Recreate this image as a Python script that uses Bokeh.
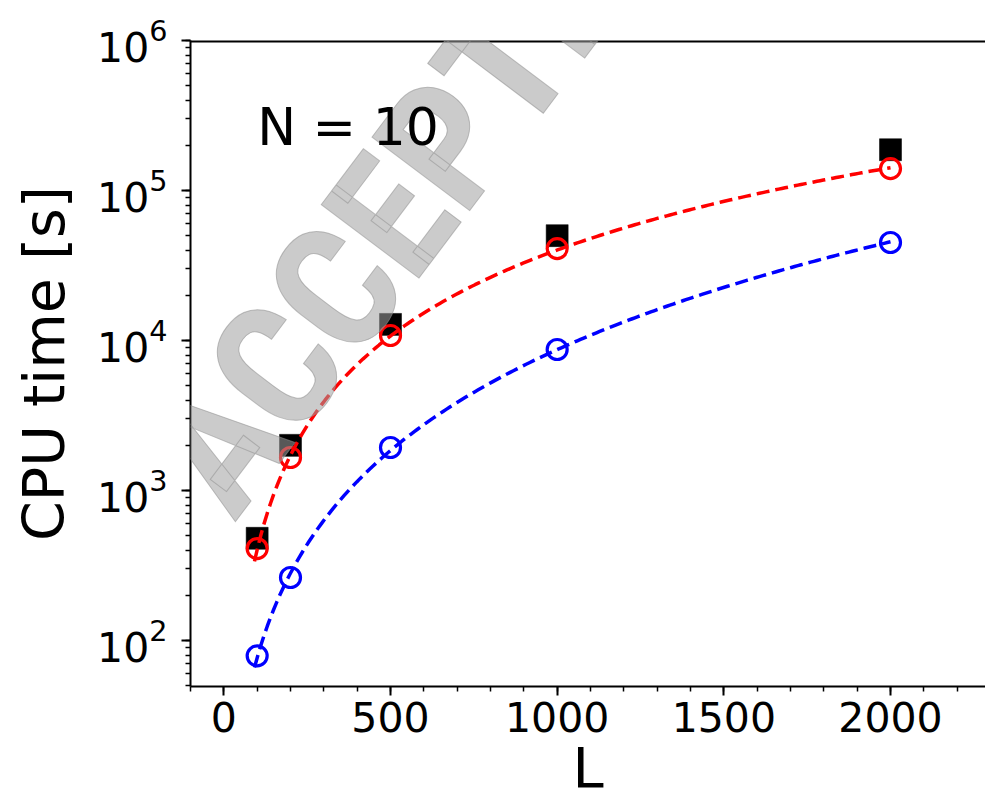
import numpy as np
from bokeh.plotting import figure
from bokeh.models import Range1d, Span, Label, SingleIntervalTicker
from bokeh.embed import file_html
from bokeh.resources import INLINE

# ---- data ----
L_values = [100, 200, 500, 1000, 2000]
cpu_black = [480, 2000, 12800, 50000, 187000]      # black squares
cpu_red = [410, 1660, 10800, 41000, 140000]        # red open circles
cpu_blue = [79, 263, 1935, 8710, 45000]            # blue open circles
annotation_text = "N = 10"
watermark_text = "ACCEPTED"
x_title = "L"
y_title = "CPU time [s]"

FONT = "DejaVu Sans"

p = figure(width=985, height=805,
           x_range=Range1d(-100, 2285), y_range=Range1d(49.35, 1e6),
           y_axis_type="log", output_backend="svg", toolbar_location=None,
           min_border_left=190, min_border_right=0, min_border_top=40,
           min_border_bottom=119, background_fill_color="white",
           border_fill_color="white")
p.outline_line_color = None
p.xgrid.visible = False
p.ygrid.visible = False

# axes styling
p.xaxis.ticker = SingleIntervalTicker(interval=500, num_minor_ticks=5)
for ax in (p.xaxis[0], p.yaxis[0]):
    ax.axis_line_width = 2
    ax.axis_line_color = "black"
    ax.major_tick_line_width = 2
    ax.minor_tick_line_width = 1.5
    ax.major_tick_out = 9
    ax.major_tick_in = 0
    ax.minor_tick_out = 5
    ax.minor_tick_in = 0
    ax.major_label_text_font = FONT
    ax.major_label_text_font_size = "41px"
    ax.major_label_text_color = "black"
    ax.axis_label_text_font = FONT
    ax.axis_label_text_font_style = "normal"
    ax.axis_label_text_color = "black"

p.xaxis.axis_label = x_title
p.yaxis.axis_label = y_title
p.xaxis.axis_label_text_font_size = "56px"
p.yaxis.axis_label_text_font_size = "57px"
p.xaxis.major_label_standoff = 6
p.yaxis.major_label_standoff = 14
p.xaxis.axis_label_standoff = 0
p.yaxis.axis_label_standoff = 17

# top spine
p.add_layout(Span(location=1e6, dimension="width", line_color="black", line_width=4))

# fitted curves (quadratic fit in log-log space of the circle data)
def fit_curve(xs, ys):
    c = np.polyfit(np.log10(xs), np.log10(ys), 2)
    xx = np.linspace(92, max(xs), 200)
    return xx, 10 ** np.polyval(c, np.log10(xx))

# black squares
p.scatter(L_values, cpu_black, marker="square", size=22,
          fill_color="black", line_color="black", line_width=0.5)

rx, ry = fit_curve(L_values, cpu_red)
bx, by = fit_curve(L_values, cpu_blue)
p.line(rx, ry, line_color="#ff0000", line_width=3.5, line_dash="13 6")
p.line(bx, by, line_color="#0000ff", line_width=3.5, line_dash="13 6")

p.scatter(L_values, cpu_red, marker="circle", size=20, fill_color=None,
          line_color="#ff0000", line_width=3.2)
p.scatter(L_values, cpu_blue, marker="circle", size=20, fill_color=None,
          line_color="#0000ff", line_width=3.2)

# watermark
p.add_layout(Label(x=-110, y=1044, text=watermark_text, angle=0.925,
                   text_font="Roboto Condensed, DejaVu Sans Condensed, Liberation Sans",
                   text_font_style="bold", text_font_size="172px",
                   text_color="#a0a0a0", text_alpha=0.55,
                   text_outline_color="#909090",
                   text_baseline="alphabetic", text_align="left"))

# annotation
p.add_layout(Label(x=100, y=2.67e5, text=annotation_text, text_font=FONT,
                   text_font_size="52px", text_color="black",
                   text_baseline="alphabetic", text_align="left"))

open("out.html", "w").write(file_html(p, INLINE))
